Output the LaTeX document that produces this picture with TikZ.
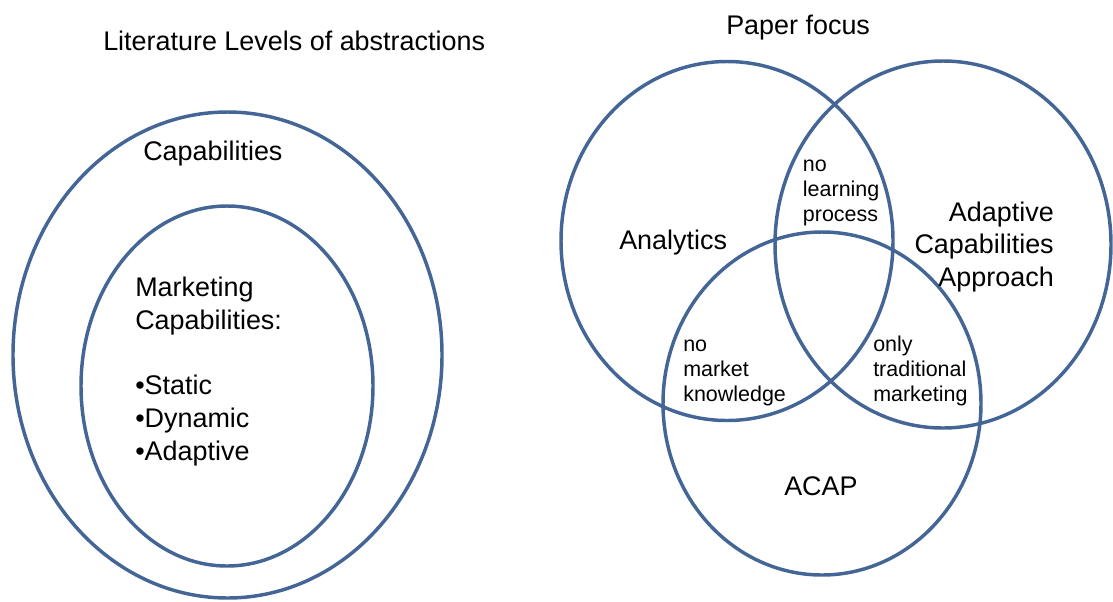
\documentclass[tikz,border=0pt]{standalone}
\usepackage{fontspec}
\setmainfont{Liberation Sans}
\usepackage{tikz}

\definecolor{ringblue}{RGB}{68,102,150}

\begin{document}
\begin{tikzpicture}[x=0.75pt,y=0.75pt,yscale=-1,xscale=1,
  ring/.style={draw=ringblue, line width=2.6pt},
  bigtxt/.style={inner sep=0pt, font=\fontsize{20.2}{24.5}\selectfont},
  smalltxt/.style={inner sep=0pt, align=left, font=\fontsize{16.1}{18.8}\selectfont}]
\useasboundingbox (0,0) rectangle (1113,601);

%Shape: Ellipse [outer, capabilities]
\draw [ring] (227.5,355) ellipse [x radius=214.5, y radius=243];
%Shape: Ellipse [inner, marketing capabilities]
\draw [ring] (227,386) ellipse [x radius=146, y radius=180];

%Shape: Ellipse [analytics]
\draw [ring] (727,241) ellipse [x radius=166, y radius=179.5];
%Shape: Ellipse [adaptive capabilities approach]
\draw [ring] (943,244.5) ellipse [x radius=168, y radius=183.5];
%Shape: Ellipse [acap]
\draw [ring] (822,403.5) ellipse [x radius=159, y radius=171.5];

% Text Node
\draw (103,50) node (littitle) [anchor=base west] [bigtxt] {Literature Levels of abstractions};
% Text Node
\draw (726,34.5) node (focustitle) [anchor=base west] [bigtxt] {Paper focus};
% Text Node
\draw (143,160) node (capab) [anchor=base west] [bigtxt] {Capabilities};
% Text Node
\draw (135,371.4) node (mktcapab) [anchor=west] [bigtxt, align=left] {Marketing\\Capabilities:\\[24.5pt]•Static\\•Dynamic\\•Adaptive};

% Text Node
\draw (619,249) node (analytics) [anchor=base west] [bigtxt] {Analytics};
% Text Node
\draw (1054,247) node (aca) [anchor=east] [bigtxt, align=right, font=\fontsize{20.2}{24.7}\selectfont] {Adaptive\\Capabilities\\Approach};
% Text Node
\draw (784,495) node (acap) [anchor=base west] [bigtxt] {ACAP};

% Text Node
\draw (802.7,193.3) node (nolearn) [anchor=west] [smalltxt] {no\\learning\\process};
% Text Node
\draw (683,373) node (nomarket) [anchor=west] [smalltxt] {no\\market\\knowledge};
% Text Node
\draw (873,370.6) node (onlytrad) [anchor=west] [smalltxt] {only\\traditional\\marketing};

\end{tikzpicture}
\end{document}
